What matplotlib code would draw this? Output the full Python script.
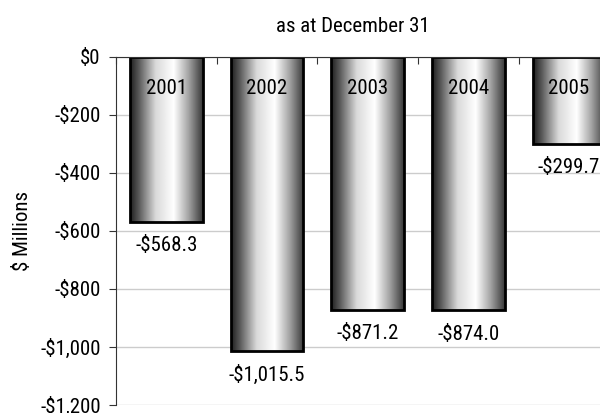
import matplotlib
matplotlib.use("Agg")
import matplotlib.pyplot as plt
import numpy as np

plt.rcParams['font.family'] = ['Roboto Condensed', 'DejaVu Sans']

years = ['2001', '2002', '2003', '2004', '2005']
deficits = [-568.3, -1015.5, -871.2, -874.0, -299.7]
y_ticks = [0, -200, -400, -600, -800, -1000, -1200]


def money(v, decimals=0):
    s = f"${abs(v):,.{decimals}f}"
    return "-" + s if v < 0 else s


fig = plt.figure(figsize=(6.0, 4.13), dpi=100)
ax = fig.add_axes([0.1933, 0.0194, 0.839, 0.8426])

x = np.arange(len(years))
bars = ax.bar(x, deficits, width=0.72, facecolor='none', edgecolor='black',
              linewidth=2, zorder=3)

# cylinder-like shading across each bar
prof_x = [0.0, 0.12, 0.35, 0.6, 0.8, 1.0]
prof_v = [0.12, 0.35, 0.85, 1.0, 0.65, 0.22]
shade = np.interp(np.linspace(0, 1, 256), prof_x, prof_v).reshape(1, -1)
for b in bars:
    x0, y0 = b.get_x(), b.get_y()
    w, h = b.get_width(), b.get_height()
    im = ax.imshow(shade, cmap='gray', vmin=0, vmax=1, aspect='auto',
                   extent=[x0, x0 + w, y0 + h, y0], zorder=2,
                   interpolation='bilinear')
    im.set_clip_path(b)

for xi, yr, v in zip(x, years, deficits):
    ax.text(xi, -110, yr, ha='center', va='center', fontsize=15, zorder=4)
    ax.annotate(money(v, 1), (xi, v), xytext=(0, -17), textcoords='offset points',
                ha='center', va='center', fontsize=15)

ax.set_xlim(-0.5, len(years) - 0.5)
ax.set_ylim(-1200, 0)
ax.set_yticks(y_ticks)
ax.set_yticklabels([money(v) for v in y_ticks], fontsize=15)
ax.yaxis.grid(True, color='#cccccc', linewidth=1)
ax.set_axisbelow(True)

ax.xaxis.tick_top()
ax.set_xticks(np.arange(len(years) + 1) - 0.5)
ax.set_xticklabels([])
ax.tick_params(axis='x', direction='in', length=5, color='#333333')
ax.tick_params(axis='y', direction='out', length=5, pad=6, color='#333333')

for side in ['right', 'bottom']:
    ax.spines[side].set_visible(False)
ax.spines['left'].set_color('#333333')
ax.spines['top'].set_color('#333333')
ax.spines['top'].set_zorder(5)

ax.set_ylabel('$ Millions', fontsize=15, labelpad=6)
fig.text(0.588, 0.935, 'as at December 31', ha='center', va='center', fontsize=15)

fig.savefig('out.png', dpi=100)
